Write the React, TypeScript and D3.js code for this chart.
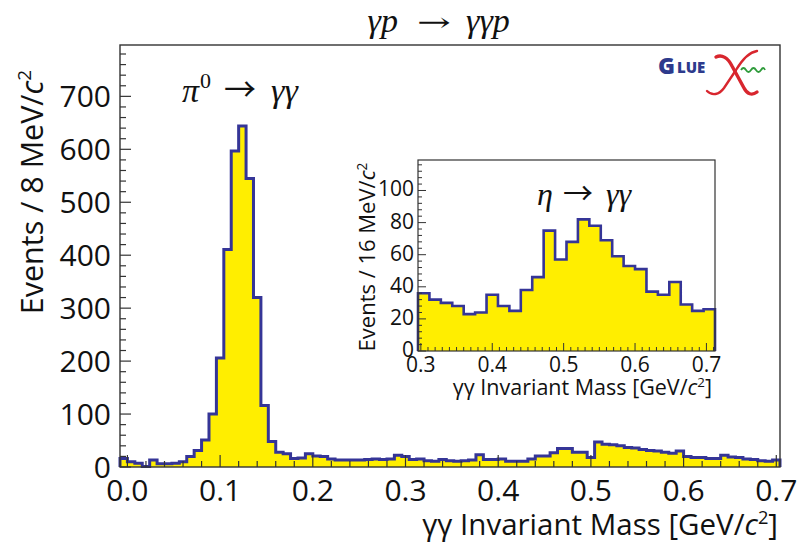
import React from 'react';
import * as d3 from 'd3';

const W = 797;
const H = 543;

// γγ invariant mass spectrum, 8 MeV/c² bins starting at -0.008 GeV/c²
const massStart = -0.008;
const massBin = 0.008;
const counts = [
  16, 10, 7, 1, 13, 6, 6, 7, 10, 20,
  31, 51, 100, 206, 411, 597, 644, 545, 320, 116,
  48, 28, 25, 16, 17, 25, 21, 20, 15, 13,
  13, 13, 13, 14, 15, 14, 15, 22, 20, 14,
  15, 12, 11, 14, 12, 11, 12, 13, 23, 14,
  14, 15, 11, 11, 11, 15, 21, 21, 27, 35,
  35, 28, 28, 18, 47, 43, 42, 40, 37, 36,
  33, 31, 30, 28, 26, 30, 20, 18, 18, 16,
  16, 22, 19, 18, 15, 14, 12, 11, 13,
];
const xTickValues = [0, 0.1, 0.2, 0.3, 0.4, 0.5, 0.6, 0.7];
const xTickLabels = ['0.0', '0.1', '0.2', '0.3', '0.4', '0.5', '0.6', '0.7'];
const yTickValues = [0, 100, 200, 300, 400, 500, 600, 700];

// η region, 16 MeV/c² bins
const etaStart = 0.296;
const etaBin = 0.016;
const etaCounts = [
  36, 32, 30, 28, 23, 24, 35, 28, 25, 38,
  46, 75, 57, 68, 82, 78, 69, 59, 53, 51,
  37, 35, 43, 29, 25, 26,
];
const etaXTickValues = [0.3, 0.4, 0.5, 0.6, 0.7];
const etaXTickLabels = ['0.3', '0.4', '0.5', '0.6', '0.7'];
const etaYTickValues = [0, 20, 40, 60, 80, 100];

const SANS = "'Open Sans', 'DejaVu Sans', sans-serif";
const SERIF = "'Liberation Serif', 'DejaVu Serif', serif";
const ARROW = "'Noto Sans CJK JP', 'DejaVu Serif', serif";
const FILL = '#ffee00';
const EDGE = '#353597';
const AXIS = '#333333';
const INK = '#111111';

type Pt = [number, number];

function stepOutline(
  values: number[],
  start: number,
  width: number,
  xs: d3.ScaleLinear<number, number>,
  ys: d3.ScaleLinear<number, number>
): Pt[] {
  const pts: Pt[] = [[xs(start), ys(0)]];
  values.forEach((v, i) => {
    pts.push([xs(start + i * width), ys(v)]);
    pts.push([xs(start + (i + 1) * width), ys(v)]);
  });
  pts.push([xs(start + values.length * width), ys(0)]);
  return pts;
}

const line = d3.line<Pt>();

function UnitText({ fontSize }: { fontSize: number }) {
  return (
    <>
      <tspan fontStyle="italic">c</tspan>
      <tspan dy={-fontSize * 0.38} fontSize={fontSize * 0.62}>2</tspan>
    </>
  );
}

export default function App() {
  // main frame
  const L = 120, R = 780, T = 45, B = 467;
  const x = d3.scaleLinear().domain([massStart, massStart + counts.length * massBin]).range([L, R]);
  const y = d3.scaleLinear().domain([0, 797]).range([B, T]);

  // inset frame
  const iL = 418, iR = 715, iT = 160, iB = 351;
  const ix = d3.scaleLinear().domain([etaStart, etaStart + etaCounts.length * etaBin]).range([iL, iR]);
  const iy = d3.scaleLinear().domain([0, 119]).range([iB, iT]);

  const mainPts = stepOutline(counts, massStart, massBin, x, y);
  const etaPts = stepOutline(etaCounts, etaStart, etaBin, ix, iy);

  const xMinor = d3.range(0, 36).map((i) => i * 0.02);
  const yMinor = d3.range(0, 40).map((i) => i * 20);
  const ixMinor = d3.range(30, 72).map((i) => i / 100);
  const iyMinor = d3.range(0, 30).map((i) => i * 4);

  const isMajor = (v: number, step: number) => Math.abs(v / step - Math.round(v / step)) < 1e-6;

  return (
    <svg
      width={W}
      height={H}
      viewBox={`0 0 ${W} ${H}`}
      style={{ position: 'absolute', left: 0, top: 0, background: '#ffffff' }}
    >
      <rect x={0} y={0} width={W} height={H} fill="#ffffff" />

      {/* main histogram */}
      <path d={line(mainPts) + 'Z'} fill={FILL} stroke="none" />
      <path d={line(mainPts) ?? ''} fill="none" stroke={EDGE} strokeWidth={3} />

      {/* main ticks */}
      {xMinor.map((v, i) => {
        const major = isMajor(v, 0.1);
        return (
          <line key={`xt${i}`} x1={x(v)} x2={x(v)} y1={B} y2={B - (major ? 12 : 6)} stroke={AXIS} strokeWidth={1.2} />
        );
      })}
      {yMinor.map((v, i) => {
        const major = isMajor(v, 100);
        return (
          <line key={`yt${i}`} x1={L} x2={L + (major ? 11 : 6)} y1={y(v)} y2={y(v)} stroke={AXIS} strokeWidth={1.2} />
        );
      })}
      <rect x={L} y={T} width={R - L} height={B - T} fill="none" stroke={AXIS} strokeWidth={1.4} />

      {/* main tick labels */}
      {xTickValues.map((v, i) => (
        <text key={`xl${i}`} x={x(v)} y={501} textAnchor="middle" fontFamily={SANS} fontSize={30} fill={INK}>
          {xTickLabels[i]}
        </text>
      ))}
      {yTickValues.map((v, i) => (
        <text key={`yl${i}`} x={111} y={y(v) + 11} textAnchor="end" fontFamily={SANS} fontSize={30} fill={INK}>
          {v}
        </text>
      ))}

      {/* main axis titles */}
      <text x={778} y={535} textAnchor="end" fontFamily={SANS} fontSize={29.5} fill={INK}>
        γγ Invariant Mass [GeV/<UnitText fontSize={29.5} />
        <tspan dy={29.5 * 0.38}>]</tspan>
      </text>
      <text
        transform={`translate(43, 192) rotate(-90)`}
        textAnchor="middle"
        fontFamily={SANS}
        fontSize={30.5}
        fill={INK}
      >
        Events / 8 MeV/<UnitText fontSize={30.5} />
      </text>

      {/* reaction title */}
      <g fontFamily={SERIF} fontSize={34} fill={INK}>
        <text x={398} y={32} textAnchor="end" fontStyle="italic">γp</text>
        <text
          transform="translate(434, 31) scale(1.55, 1)"
          textAnchor="middle"
          fontFamily="'DejaVu Serif', serif"
          fontSize={26}
        >
          →
        </text>
        <text x={466} y={32} fontStyle="italic">γγp</text>
      </g>

      {/* π0 peak annotation */}
      <g fontFamily={SERIF} fill={INK}>
        <text x={182} y={102} fontSize={34} fontStyle="italic">π</text>
        <text x={200} y={88} fontSize={22}>0</text>
        <text x={240} y={101} fontSize={32} textAnchor="middle" fontFamily={ARROW}>→</text>
        <text x={271} y={102} fontSize={34} fontStyle="italic">γγ</text>
      </g>

      {/* inset */}
      <rect x={iL} y={iT} width={iR - iL} height={iB - iT} fill="#ffffff" />
      <path d={line(etaPts) + 'Z'} fill={FILL} stroke="none" />
      <path d={line(etaPts) ?? ''} fill="none" stroke={EDGE} strokeWidth={2.6} />
      {ixMinor.map((v, i) => {
        const major = isMajor(v, 0.1);
        return (
          <line key={`ixt${i}`} x1={ix(v)} x2={ix(v)} y1={iB} y2={iB - (major ? 8 : 4)} stroke={AXIS} strokeWidth={1} />
        );
      })}
      {iyMinor.map((v, i) => {
        const major = isMajor(v, 20);
        return (
          <line key={`iyt${i}`} x1={iL} x2={iL + (major ? 8 : 4)} y1={iy(v)} y2={iy(v)} stroke={AXIS} strokeWidth={1} />
        );
      })}
      <rect x={iL} y={iT} width={iR - iL} height={iB - iT} fill="none" stroke={AXIS} strokeWidth={1.2} />
      {etaXTickValues.map((v, i) => (
        <text key={`ixl${i}`} x={ix(v)} y={372} textAnchor="middle" fontFamily={SANS} fontSize={21} fill={INK}>
          {etaXTickLabels[i]}
        </text>
      ))}
      {etaYTickValues.map((v, i) => (
        <text key={`iyl${i}`} x={414} y={iy(v) + 6} textAnchor="end" fontFamily={SANS} fontSize={21} fill={INK}>
          {v}
        </text>
      ))}
      <text x={712} y={395} textAnchor="end" fontFamily={SANS} fontSize={21.5} fill={INK}>
        γγ Invariant Mass [GeV/<UnitText fontSize={21.5} />
        <tspan dy={21.5 * 0.38}>]</tspan>
      </text>
      <text
        transform={`translate(375, 257) rotate(-90)`}
        textAnchor="middle"
        fontFamily={SANS}
        fontSize={22}
        fill={INK}
      >
        Events / 16 MeV/<UnitText fontSize={22} />
      </text>
      <g fontFamily={SERIF} fontSize={32} fill={INK}>
        <text x={537} y={205} fontStyle="italic">η</text>
        <text x={578} y={204} textAnchor="middle" fontFamily={ARROW} fontSize={30}>→</text>
        <text x={606} y={205} fontStyle="italic">γγ</text>
      </g>

      {/* GlueX logo */}
      <g>
        <text x={658} y={74} fontFamily={SANS} fontWeight={800} fontSize={23} fill="#2d3a8c">G</text>
        <text x={677} y={73} fontFamily={SANS} fontWeight={800} fontSize={15} fill="#2d3a8c">LUE</text>
        <path
          d="M741,70 q2.5,-4 5,0 t5,0 t5,0 t5,0 t4,0"
          fill="none"
          stroke="#2e9b3a"
          strokeWidth={1.8}
        />
        <path
          d="M716,57 C722,54 728,58 732,66 L744,88 C747,94 752,96 757,92"
          fill="none"
          stroke="#d8262e"
          strokeWidth={3.4}
          strokeLinecap="round"
        />
        <path
          d="M757,51 C750,52 742,60 736,70 L724,88 C719,95 712,96 707,91"
          fill="none"
          stroke="#d8262e"
          strokeWidth={2.4}
          strokeLinecap="round"
        />
      </g>
    </svg>
  );
}
